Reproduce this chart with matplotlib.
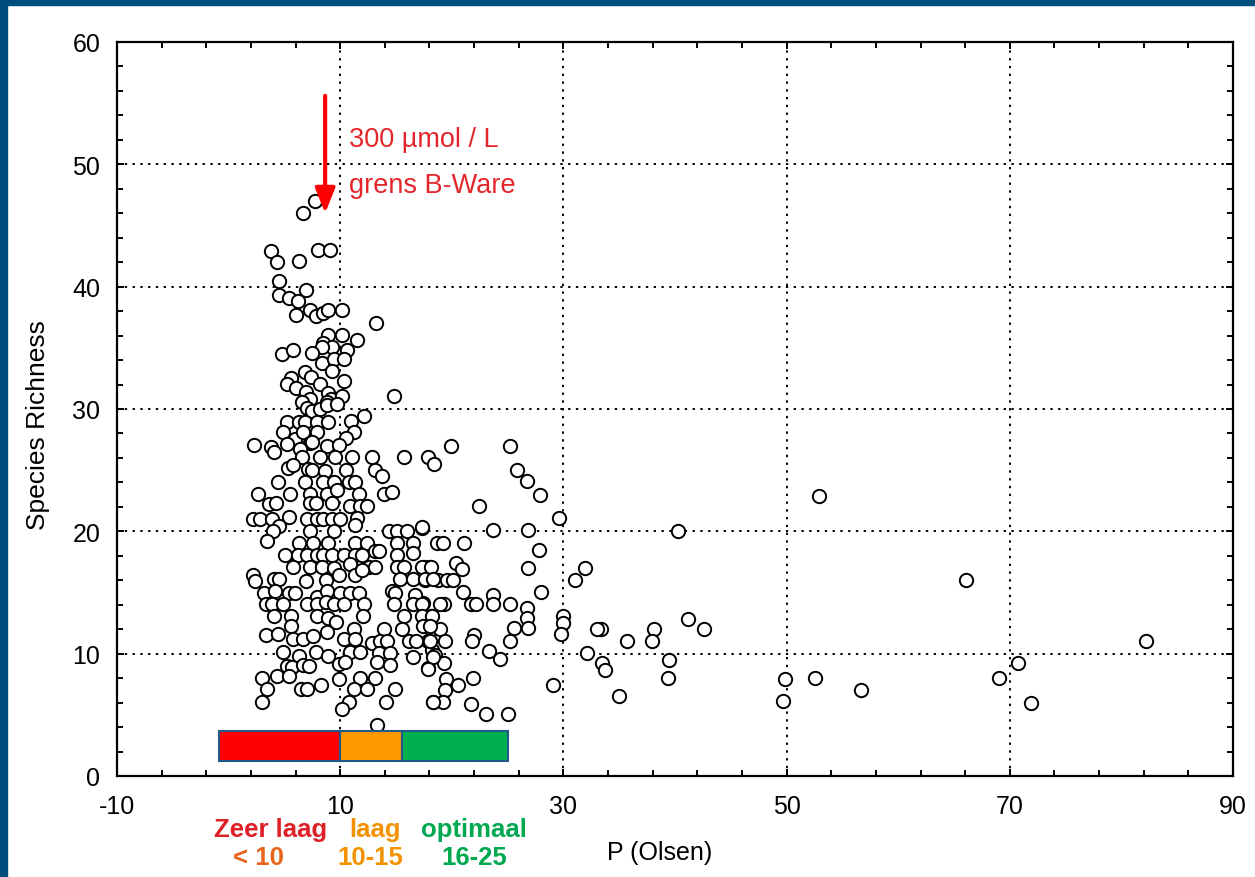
import numpy as np
import matplotlib
matplotlib.use("Agg")
import matplotlib.pyplot as plt
from matplotlib.patches import Rectangle

plt.rcParams["axes.unicode_minus"] = False

# Data: P (Olsen) vs species richness
# Sparse points, high P
high_p = [(52.9, 22.9), (66.1, 16.0), (82.2, 11.0), (70.7, 9.2), (69.0, 8.0), (71.9, 6.0),
          (56.7, 7.0), (52.5, 8.05), (49.9, 7.9), (49.7, 6.1), (40.3, 20.0), (41.2, 12.8),
          (42.6, 12.05), (38.1, 12.05), (37.9, 11.05), (35.7, 11.05), (33.4, 12.05), (33.0, 12.05),
          (39.5, 9.5), (39.4, 8.05), (33.5, 9.2), (33.7, 8.7), (35.0, 6.5), (32.1, 10.05),
          (31.9, 17.0), (31.0, 16.05), (30.0, 13.05), (30.0, 12.5), (29.8, 11.6), (29.6, 21.05),
          (29.1, 7.4), (27.9, 23.0), (26.7, 24.1), (25.8, 25.0), (25.2, 27.0), (26.8, 20.1),
          (27.8, 18.5), (26.8, 17.0), (28.0, 15.05), (26.7, 13.7), (26.7, 12.9), (26.8, 12.1),
          (25.6, 12.1), (25.2, 11.0), (24.3, 9.6), (23.3, 10.25), (25.0, 5.05), (23.1, 5.05)]

# Medium P
mid_p = [(19.9, 27.0), (17.9, 26.05), (18.4, 25.5), (22.4, 22.1), (17.3, 20.3), (23.7, 20.1),
         (18.7, 19.05), (19.2, 19.05), (21.1, 19.05), (20.4, 17.4), (20.9, 16.9), (17.5, 17.1),
         (18.0, 17.1), (17.6, 16.05), (18.8, 16.05), (19.55, 16.05), (20.1, 16.05), (21.0, 15.05),
         (23.7, 14.8), (23.7, 14.05), (17.4, 14.15), (19.3, 14.1), (21.7, 14.05), (22.2, 14.05),
         (25.2, 14.05), (18.1, 13.05), (18.1, 12.05), (18.9, 12.05), (22.0, 11.5), (21.8, 11.05),
         (17.9, 11.05), (19.4, 11.05), (18.2, 10.3), (18.5, 9.9), (17.9, 8.8), (19.3, 9.2),
         (19.5, 7.9), (19.4, 7.0), (20.6, 7.4), (21.9, 8.05), (18.3, 6.05), (19.2, 6.05),
         (21.7, 5.9)]

# Low P, high richness
low_p_upper = [(6.65, 46.0), (7.7, 47.0), (3.8, 42.95), (4.3, 42.05), (6.35, 42.1), (8.0, 43.0),
               (9.1, 43.0), (4.55, 40.45), (6.95, 39.7), (4.55, 39.3), (5.45, 39.05), (6.2, 38.8),
               (6.05, 37.7), (7.25, 38.1), (7.85, 37.6), (8.45, 37.86), (8.95, 38.1), (10.2, 38.1),
               (13.2, 37.05), (8.9, 36.05), (10.2, 36.05), (11.55, 35.6), (8.45, 35.4), (9.25, 35.05),
               (8.35, 35.05), (10.65, 34.8), (4.8, 34.5), (5.8, 34.85), (7.45, 34.6), (8.35, 33.8),
               (9.45, 34.1), (10.35, 34.1), (9.25, 33.1), (6.85, 33.0), (7.35, 32.6), (8.15, 32.05),
               (5.6, 32.5), (5.25, 32.05), (6.0, 31.7), (10.35, 32.3), (6.95, 31.4), (7.25, 30.8),
               (6.55, 30.6), (8.95, 31.3), (9.15, 30.8), (8.85, 30.55), (10.15, 31.05), (14.8, 31.05),
               (7.0, 30.05), (7.5, 29.8), (8.2, 30.0), (8.85, 30.3), (9.7, 30.4), (12.15, 29.45),
               (5.25, 28.95), (6.3, 28.95), (6.85, 28.95), (7.9, 28.95), (8.95, 28.95), (10.95, 29.05),
               (4.9, 28.1), (5.95, 27.55), (6.65, 28.1), (7.95, 28.1), (7.3, 27.25), (11.2, 28.1),
               (10.55, 27.6), (2.3, 27.05), (3.8, 26.9), (4.1, 26.5), (5.2, 27.15), (6.4, 26.7),
               (7.5, 27.3), (8.8, 27.0), (9.85, 27.05), (6.55, 26.05), (8.2, 26.05), (9.55, 26.05),
               (11.05, 26.05), (12.85, 26.05), (15.75, 26.05), (5.35, 25.15), (5.8, 25.4), (7.15, 25.1),
               (7.45, 25.05), (8.65, 24.9), (10.55, 25.05), (13.15, 25.05), (13.75, 24.5)]

# Low P, low richness
low_p_lower = [(4.45, 24.05), (6.85, 24.05), (8.5, 24.05), (9.4, 24.05), (10.75, 24.05), (11.35, 24.05),
               (2.6, 23.05), (5.5, 23.05), (7.3, 23.05), (8.8, 23.05), (9.7, 23.4), (11.65, 23.05),
               (13.9, 23.05), (14.6, 23.25), (3.65, 22.25), (4.25, 22.3), (7.25, 22.3), (7.85, 22.3),
               (9.25, 22.3), (10.9, 22.1), (11.8, 22.1), (12.4, 22.1), (2.2, 21.0), (2.8, 21.0),
               (3.9, 21.0), (5.4, 21.2), (7.0, 21.0), (7.9, 21.0), (8.5, 21.0), (9.25, 21.0),
               (10.0, 21.0), (11.5, 21.05), (4.55, 20.4), (4.0, 20.0), (3.4, 19.25), (7.25, 20.05),
               (9.4, 20.05), (11.35, 20.5), (14.35, 20.05), (15.1, 20.05), (16.0, 20.05), (17.35, 20.35),
               (6.35, 19.05), (7.55, 19.05), (8.95, 19.05), (11.35, 19.05), (12.4, 19.05), (13.15, 18.4),
               (13.45, 18.4), (15.1, 19.05), (16.5, 19.05), (5.05, 18.05), (6.25, 18.05), (7.0, 18.05),
               (7.9, 18.05), (8.5, 18.05), (9.25, 18.05), (10.3, 18.05), (11.35, 18.05), (11.95, 18.05),
               (15.1, 18.05), (16.5, 18.25), (5.8, 17.05), (7.25, 17.05), (8.35, 17.05), (9.4, 17.0),
               (10.9, 17.3), (12.55, 17.05), (13.15, 17.05), (15.1, 17.05), (15.7, 17.05), (17.35, 17.05),
               (18.1, 17.05), (2.2, 16.4), (2.4, 15.95), (4.05, 16.1), (4.55, 16.1), (6.95, 15.95),
               (8.75, 16.05), (9.85, 16.4), (11.35, 16.4), (11.95, 16.8), (15.4, 16.1), (16.55, 16.1),
               (17.6, 16.1), (18.3, 16.1), (3.2, 15.0), (4.2, 15.15), (5.45, 15.0), (5.95, 15.0),
               (7.9, 14.6), (8.8, 15.15), (10.0, 15.0), (10.9, 15.0), (11.65, 15.0), (14.65, 15.15),
               (14.95, 15.0), (16.7, 14.8), (3.35, 14.05), (3.9, 14.05), (4.9, 14.05), (7.0, 14.05),
               (7.95, 14.05), (8.75, 14.2), (9.45, 14.05), (10.35, 14.05), (12.1, 14.05), (14.8, 14.05),
               (16.55, 14.05), (17.3, 14.05), (18.9, 14.05), (4.05, 13.1), (5.55, 13.1), (7.9, 13.1),
               (8.95, 12.95), (12.05, 13.1), (15.7, 13.1), (17.35, 13.1), (18.2, 13.1), (5.55, 12.25),
               (9.65, 12.6), (11.2, 12.05), (13.9, 12.05), (15.55, 12.05), (17.45, 12.25), (18.05, 12.25),
               (3.35, 11.55), (4.45, 11.6), (5.8, 11.2), (6.7, 11.2), (7.6, 11.45), (8.8, 11.75),
               (10.3, 11.2), (11.35, 11.2), (12.85, 10.9), (13.6, 11.05), (14.2, 11.05), (16.15, 11.05),
               (16.75, 11.05), (18.05, 11.05), (4.9, 10.15), (6.35, 9.85), (7.85, 10.1), (8.95, 9.85),
               (10.9, 10.1), (11.8, 10.1), (13.45, 10.05), (14.5, 10.05), (16.55, 9.7), (18.35, 9.7),
               (5.2, 9.0), (5.7, 8.9), (6.7, 9.05), (7.2, 9.0), (9.85, 9.15), (10.45, 9.3),
               (13.3, 9.3), (14.5, 9.05), (17.9, 8.75), (3.0, 8.05), (4.35, 8.2), (5.4, 8.15),
               (9.85, 7.95), (11.8, 8.05), (13.15, 8.05), (3.45, 7.1), (6.45, 7.1), (7.05, 7.1),
               (8.25, 7.45), (11.2, 7.1), (12.4, 7.1), (14.9, 7.1), (3.0, 6.05), (10.75, 6.05),
               (10.15, 5.5), (14.1, 6.05), (18.3, 6.05), (13.3, 4.15)]

# P classes (bar at the bottom)
class_edges = [-0.9, 10.0, 15.5, 25.0]
class_colors = ["#ff0000", "#ff9900", "#00b050"]
class_names = ["Zeer laag", "laag", "optimaal"]
class_ranges = ["< 10", "10-15", "16-25"]
bar_y = (1.2, 3.7)

arrow_x, arrow_top, arrow_tip = 8.65, 55.6, 46.0

points = np.array(high_p + mid_p + low_p_upper + low_p_lower)

fig = plt.figure(figsize=(12.55, 8.78), dpi=100)
fig.patch.set_facecolor("white")
ax = fig.add_axes([117 / 1255, 1 - 777 / 878, (1233 - 117) / 1255, (777 - 43) / 878])

# dark blue frame on left and top
frame = "#004e7c"
fig.patches.append(Rectangle((0, 0), 7 / 1255, 1, transform=fig.transFigure, color=frame, zorder=10))
fig.patches.append(Rectangle((0, 1 - 6 / 878), 1, 6 / 878, transform=fig.transFigure, color=frame, zorder=10))

ax.scatter(points[:, 0], points[:, 1], s=92, facecolors="white", edgecolors="black",
           linewidths=1.4, zorder=3, clip_on=False)

# class bar
for i in range(3):
    ax.add_patch(Rectangle((class_edges[i], bar_y[0]), class_edges[i + 1] - class_edges[i],
                           bar_y[1] - bar_y[0], facecolor=class_colors[i],
                           edgecolor="#1f5a8a", linewidth=1.5, zorder=4))

# arrow + annotation
ax.annotate("", xy=(arrow_x, arrow_tip), xytext=(arrow_x, arrow_top),
            arrowprops=dict(arrowstyle="-|>,head_width=0.3,head_length=0.75",
                            color="#ff0000", lw=3.0, mutation_scale=20,
                            shrinkA=0, shrinkB=0), zorder=5)
narrow = ["Liberation Sans Narrow", "Liberation Sans", "DejaVu Sans"]
ax.text(10.8, 52.1, "300 µmol / L", color="#e3262b", fontsize=19.5, family=narrow,
        va="center", ha="left")
ax.text(10.8, 48.3, "grens B-Ware", color="#e3262b", fontsize=19.5, family=narrow,
        va="center", ha="left")

ax.set_xlim(-10, 90)
ax.set_ylim(0, 60)
ax.set_xticks(np.arange(-10, 91, 20))
ax.set_xticks(np.arange(-10, 91, 4), minor=True)
ax.set_yticks(np.arange(0, 61, 10))
ax.set_yticks(np.arange(0, 61, 2), minor=True)
ax.grid(True, which="major", color="black", linestyle=(0, (1.2, 2.8)), linewidth=1.4)
ax.set_axisbelow(True)

for sp in ax.spines.values():
    sp.set_linewidth(1.6)
ax.tick_params(which="both", direction="in", top=True, right=True, width=1.4,
               labelsize=18, labelfontfamily="Liberation Sans")
ax.tick_params(which="major", length=5)
ax.tick_params(which="minor", length=4)
ax.tick_params(axis="x", pad=13)
ax.tick_params(axis="y", pad=12)

fig.text(38 / 1255, 1 - 425 / 878, "Species Richness", rotation=90, fontsize=19,
         family=["Liberation Sans", "DejaVu Sans"], ha="center", va="center")
fig.text(660 / 1255, 1 - 853 / 878, "P (Olsen)", fontsize=18,
         family=["Liberation Sans", "DejaVu Sans"], ha="center", va="center")

# class labels under the axis
bold = ["Liberation Sans", "DejaVu Sans"]
name_x = [271, 375, 474]
name_colors = ["#dd1f26", "#f39200", "#00a84f"]
range_x = [258, 370, 474]
range_colors = ["#e8641b", "#f39200", "#00a84f"]
for i in range(3):
    fig.text(name_x[i] / 1255, 1 - 830 / 878, class_names[i], fontsize=18.5, weight="bold",
             family=bold, color=name_colors[i], ha="center", va="center")
    fig.text(range_x[i] / 1255, 1 - 858 / 878, class_ranges[i], fontsize=18.5, weight="bold",
             family=bold, color=range_colors[i], ha="center", va="center")

fig.savefig("out.png", dpi=100)
